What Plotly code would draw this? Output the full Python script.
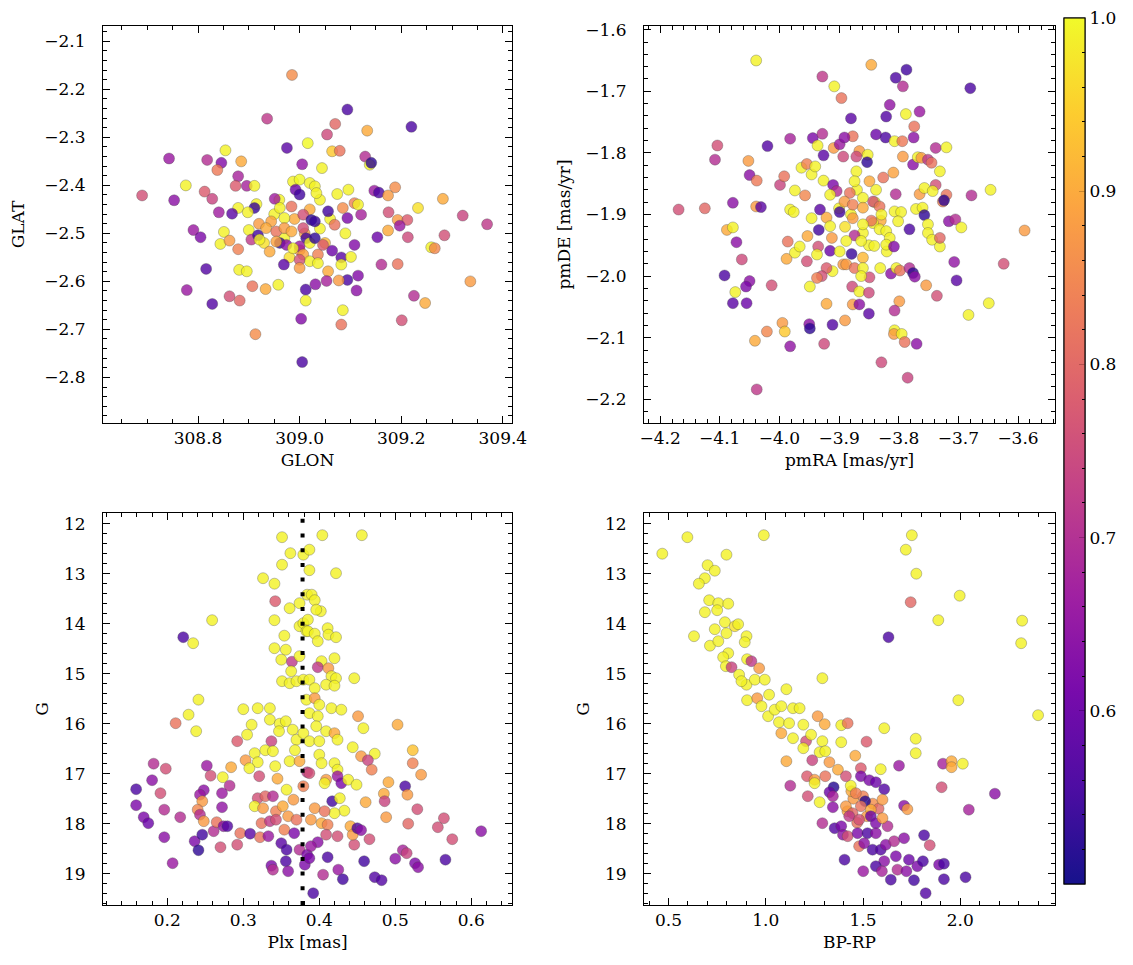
import plotly.graph_objects as go

# ---------------- data ----------------
# Panel 1: galactic position
glon = [
    308.95, 308.99, 309.04, 309.01, 308.97, 309.05, 308.93, 309.02, 309.06, 308.96,
    309.00, 309.04, 308.98, 309.09, 308.92,
    308.936, 308.975, 309.016, 308.743, 308.818, 308.846, 308.854, 308.885, 308.838, 309.005,
    308.776, 308.879, 308.874, 308.896, 308.911, 308.813, 308.690, 308.753, 308.828, 308.951,
    308.915, 308.911, 308.879, 308.841, 308.867, 308.898,
    308.987, 309.000, 309.020, 308.992, 309.000, 308.961, 308.984, 308.970, 309.007, 309.023,
    308.944, 308.934, 308.954, 308.970, 308.984, 309.007, 309.013, 308.961, 308.974, 309.000,
    309.020, 308.987, 309.007, 309.020, 309.000, 309.000,
    308.791, 308.805, 308.851, 308.844, 308.862, 308.879, 308.900, 308.905, 308.918, 308.921,
    308.941, 308.954, 308.816, 308.881, 308.896, 308.969, 308.778, 308.828, 308.862, 308.882,
    308.907, 308.933, 308.958, 309.012, 309.012, 309.003, 308.913, 309.005, 308.985,
    309.094, 309.070, 309.054, 309.133, 309.220, 309.064, 309.079, 309.044, 309.129, 309.138,
    309.141, 309.030, 309.033, 309.074, 309.096, 309.147, 309.156, 309.188, 309.174, 309.282,
    309.233, 309.175, 309.321, 309.369, 309.193, 309.212, 309.197, 309.174, 309.213, 309.285,
    309.259, 309.266, 309.153, 309.121, 309.108, 309.056, 309.030, 309.094, 309.115, 309.085,
    309.069, 309.030, 309.108, 309.064, 309.082, 309.101, 309.082, 309.036, 309.046, 309.056,
    309.036, 309.161, 309.193, 309.336, 309.115, 309.094, 309.077, 309.053, 309.031, 309.112,
    309.225, 309.247, 309.085, 309.082, 309.201,
]
glat = [
    -2.46, -2.47, -2.49, -2.50, -2.51, -2.52, -2.52, -2.45, -2.47, -2.43,
    -2.535, -2.43, -2.55, -2.50, -2.48,
    -2.261, -2.322, -2.312, -2.344, -2.347, -2.353, -2.327, -2.350, -2.368, -2.356,
    -2.400, -2.381, -2.401, -2.401, -2.401, -2.413, -2.421, -2.431, -2.428, -2.428,
    -2.439, -2.447, -2.447, -2.456, -2.459, -2.456,
    -2.392, -2.388, -2.395, -2.409, -2.419, -2.447, -2.444, -2.468, -2.461, -2.472,
    -2.475, -2.489, -2.496, -2.489, -2.496, -2.489, -2.510, -2.520, -2.524, -2.527,
    -2.520, -2.531, -2.544, -2.558, -2.555, -2.572,
    -2.493, -2.508, -2.497, -2.522, -2.515, -2.533, -2.493, -2.513, -2.504, -2.513,
    -2.538, -2.517, -2.574, -2.576, -2.579, -2.565, -2.618, -2.647, -2.631, -2.640,
    -2.610, -2.616, -2.607, -2.617, -2.640, -2.678, -2.710, -2.768, -2.170,
    -2.242, -2.272, -2.294, -2.286, -2.278, -2.329, -2.328, -2.364, -2.340, -2.357,
    -2.353, -2.402, -2.416, -2.418, -2.409, -2.411, -2.415, -2.404, -2.421, -2.428,
    -2.447, -2.456, -2.463, -2.481, -2.472, -2.472, -2.484, -2.494, -2.508, -2.504,
    -2.529, -2.531, -2.508, -2.461, -2.437, -2.454, -2.475, -2.468, -2.440, -2.447,
    -2.482, -2.510, -2.524, -2.536, -2.550, -2.549, -2.565, -2.544, -2.524, -2.579,
    -2.562, -2.565, -2.564, -2.600, -2.588, -2.597, -2.598, -2.599, -2.606, -2.619,
    -2.630, -2.645, -2.660, -2.690, -2.681,
]
prob_pos = [
    0.99, 0.90, 0.99, 0.88, 0.99, 0.92, 0.97, 0.90, 0.99, 0.99,
    0.85, 0.99, 0.97, 0.99, 0.88,
    0.72, 0.58, 1.00, 0.66, 0.70, 0.63, 0.99, 0.90, 0.83, 0.65,
    0.99, 0.68, 0.78, 0.68, 0.99, 0.78, 0.76, 0.64, 0.74, 0.67,
    0.99, 0.54, 0.99, 0.67, 0.58, 0.99,
    0.99, 1.00, 0.99, 0.60, 0.55, 0.99, 0.82, 0.99, 0.76, 0.53,
    0.89, 0.90, 0.82, 0.88, 0.90, 0.76, 0.55, 0.53, 0.64, 0.66,
    0.99, 0.99, 0.89, 0.99, 0.76, 0.88,
    0.66, 0.62, 0.99, 0.99, 0.88, 0.84, 0.99, 0.72, 0.55, 0.99,
    0.90, 0.89, 0.57, 0.99, 0.99, 0.58, 0.66, 0.57, 0.76, 0.80,
    0.82, 0.90, 0.99, 0.56, 0.99, 0.63, 0.86, 0.56, 0.86,
    0.56, 0.80, 0.75, 0.90, 0.56, 0.94, 0.82, 0.99, 0.70, 0.99,
    0.53, 0.99, 0.99, 0.99, 0.99, 0.66, 0.56, 0.86, 0.88, 0.90,
    0.97, 0.76, 0.74, 0.72, 0.88, 0.78, 0.66, 0.90, 0.75, 0.76,
    0.99, 0.85, 0.60, 0.68, 0.84, 0.55, 0.54, 0.62, 0.99, 0.86,
    0.82, 0.53, 0.63, 0.60, 0.58, 0.99, 0.99, 0.84, 0.78, 0.90,
    0.99, 0.70, 0.82, 0.88, 0.63, 0.56, 0.88, 0.68, 0.64, 0.64,
    0.70, 0.90, 0.99, 0.82, 0.76,
]

# Panel 2: proper motions
pmra = [
    -3.88, -3.86, -3.84, -3.89, -3.85, -3.87, -3.83, -3.90, -3.86, -3.82,
    -4.039, -3.928, -3.908, -3.896, -4.104, -4.108, -4.020, -3.982, -3.944, -3.928,
    -3.936, -3.926, -3.909, -3.899, -3.893, -4.052, -4.050, -4.038, -3.999, -3.992,
    -3.963, -3.954, -3.946, -3.940, -3.974, -3.957, -3.926, -3.910, -3.904, -3.915,
    -4.169, -4.125, -4.078, -4.039, -4.031, -3.982, -3.976, -3.932, -3.921, -3.946,
    -3.899, -4.088, -4.078, -4.072, -4.063, -3.986, -3.988, -3.974, -3.966, -3.953,
    -3.934, -3.915, -3.912, -3.935, -3.915, -3.954, -3.937, -3.899, -3.893, -3.911,
    -3.921, -3.929, -3.949, -3.937, -4.092, -4.050, -4.056, -4.013, -4.074, -4.078,
    -4.055, -3.921, -3.890, -3.995, -3.991, -4.021, -4.041, -3.950, -3.949, -3.911,
    -3.982, -3.925, -4.038,
    -3.846, -3.787, -3.805, -3.793, -3.680, -3.815, -3.821, -3.788, -3.765, -3.880,
    -3.774, -3.838, -3.822, -3.807, -3.794, -3.775, -3.877, -3.891, -3.738, -3.720,
    -3.793, -3.776, -3.768, -3.762, -3.751, -3.745, -3.731, -3.866, -3.852, -3.871,
    -3.853, -3.809, -3.826, -3.871, -3.874, -3.849, -3.838, -3.805, -3.765, -3.757,
    -3.738, -3.743, -3.720, -3.726, -3.724, -3.678, -3.646, -3.882, -3.891, -3.843,
    -3.860, -3.877, -3.832, -3.829, -3.860, -3.877, -3.807, -3.796, -3.801, -3.771,
    -3.760, -3.757, -3.751, -3.751, -3.782, -3.716, -3.705, -3.695, -3.589, -3.744,
    -3.731, -3.731, -3.843, -3.832, -3.821, -3.815, -3.846, -3.860, -3.874, -3.888,
    -3.863, -3.841, -3.821, -3.808, -3.879, -3.707, -3.624, -3.888, -3.874, -3.860,
    -3.831, -3.813, -3.804, -3.798, -3.782, -3.776, -3.773, -3.849, -3.863, -3.878,
    -3.866, -3.850, -3.754, -3.703, -3.736, -3.649, -3.683, -3.877, -3.866, -3.850,
    -3.799, -3.807, -3.807, -3.808, -3.795, -3.790, -3.770, -3.829, -3.785,
]
pmde = [
    -1.90, -1.93, -1.88, -1.92, -1.95, -1.86, -1.91, -1.89, -1.97, -1.96,
    -1.650, -1.676, -1.692, -1.711, -1.788, -1.811, -1.789, -1.777, -1.776, -1.769,
    -1.788, -1.804, -1.792, -1.786, -1.806, -1.813, -1.836, -1.845, -1.852, -1.838,
    -1.824, -1.818, -1.835, -1.822, -1.861, -1.869, -1.845, -1.852, -1.862, -1.868,
    -1.892, -1.890, -1.881, -1.887, -1.888, -1.892, -1.896, -1.892, -1.905, -1.906,
    -1.896, -1.925, -1.921, -1.945, -1.973, -1.944, -1.972, -1.962, -1.952, -1.935,
    -1.925, -1.919, -1.938, -1.952, -1.959, -1.976, -1.965, -1.960, -1.981, -1.992,
    -1.987, -2.000, -2.017, -2.003, -1.999, -2.008, -2.017, -2.015, -2.026, -2.044,
    -2.044, -2.045, -2.072, -2.076, -2.090, -2.090, -2.105, -2.078, -2.085, -2.079,
    -2.114, -2.110, -2.184,
    -1.657, -1.665, -1.678, -1.692, -1.695, -1.722, -1.741, -1.737, -1.733, -1.744,
    -1.757, -1.770, -1.775, -1.781, -1.781, -1.775, -1.773, -1.775, -1.792, -1.791,
    -1.806, -1.819, -1.807, -1.808, -1.811, -1.816, -1.830, -1.797, -1.803, -1.806,
    -1.815, -1.832, -1.840, -1.830, -1.846, -1.846, -1.860, -1.867, -1.867, -1.857,
    -1.852, -1.862, -1.868, -1.879, -1.877, -1.869, -1.860, -1.865, -1.879, -1.879,
    -1.873, -1.884, -1.887, -1.900, -1.889, -1.906, -1.895, -1.896, -1.911, -1.891,
    -1.889, -1.901, -1.916, -1.930, -1.924, -1.911, -1.908, -1.921, -1.926, -1.941,
    -1.952, -1.938, -1.914, -1.924, -1.927, -1.938, -1.910, -1.916, -1.934, -1.943,
    -1.943, -1.951, -1.949, -1.952, -1.964, -1.977, -1.980, -1.981, -1.987, -1.987,
    -1.987, -1.996, -1.987, -1.991, -1.987, -1.995, -2.001, -2.002, -2.000, -2.017,
    -2.025, -2.027, -2.015, -2.007, -2.032, -2.044, -2.063, -2.046, -2.046, -2.061,
    -2.041, -2.056, -2.088, -2.094, -2.094, -2.107, -2.110, -2.140, -2.165,
]
prob_pm = [
    0.99, 0.99, 0.99, 0.97, 0.99, 0.99, 0.90, 0.99, 0.92, 0.99,
    0.99, 0.72, 0.99, 0.82, 0.76, 0.70, 0.57, 0.68, 0.62, 0.70,
    0.99, 0.58, 0.88, 0.66, 0.75, 0.88, 0.64, 0.83, 0.74, 0.82,
    0.99, 0.84, 0.99, 0.99, 0.99, 0.85, 0.99, 0.62, 0.70, 0.99,
    0.76, 0.80, 0.64, 0.88, 0.58, 0.99, 0.99, 0.58, 0.90, 0.99,
    0.55, 0.90, 0.99, 0.64, 0.75, 0.82, 0.90, 0.99, 0.99, 0.90,
    0.55, 0.99, 0.88, 0.76, 0.60, 0.76, 0.99, 0.99, 0.88, 0.99,
    0.78, 0.76, 0.99, 0.84, 0.56, 0.64, 0.62, 0.76, 0.99, 0.58,
    0.60, 0.90, 0.88, 0.88, 0.94, 0.85, 0.90, 0.64, 0.53, 0.57,
    0.65, 0.75, 0.72,
    0.90, 0.55, 0.56, 0.70, 0.56, 0.65, 0.57, 0.99, 0.66, 0.58,
    0.82, 0.60, 0.56, 0.99, 0.83, 0.64, 0.82, 0.64, 0.70, 0.99,
    0.88, 0.64, 0.99, 0.88, 0.72, 0.82, 0.99, 0.88, 0.99, 0.75,
    0.53, 0.89, 0.82, 0.99, 0.99, 0.90, 0.99, 0.70, 0.88, 0.99,
    0.76, 0.99, 0.82, 0.84, 0.53, 0.70, 0.99, 0.82, 0.88, 0.76,
    0.99, 0.84, 0.82, 0.99, 0.90, 0.88, 0.99, 0.99, 0.99, 0.99,
    0.99, 0.53, 0.99, 0.99, 0.56, 0.64, 0.70, 0.99, 0.88, 0.99,
    0.99, 0.80, 0.99, 0.99, 0.99, 0.99, 0.82, 0.99, 0.70, 0.99,
    0.99, 0.99, 0.99, 0.63, 0.54, 0.65, 0.76, 0.88, 0.82, 0.99,
    0.99, 0.64, 0.99, 0.82, 0.70, 0.53, 0.64, 0.76, 0.99, 0.75,
    0.99, 0.75, 0.88, 0.58, 0.76, 0.99, 0.99, 0.88, 0.64, 0.58,
    0.88, 0.70, 0.99, 0.88, 0.99, 0.82, 0.64, 0.75, 0.74,
]

# Panel 3: parallax vs G
plx = [
    0.351, 0.362, 0.379, 0.351, 0.326, 0.341, 0.342, 0.361, 0.374, 0.384,
    0.341, 0.374, 0.379, 0.383, 0.259, 0.221, 0.234, 0.354, 0.341, 0.356,
    0.350, 0.364, 0.374, 0.363, 0.351, 0.361, 0.370, 0.379, 0.383, 0.241,
    0.228, 0.211, 0.238, 0.300, 0.319, 0.335, 0.311, 0.305, 0.335, 0.348,
    0.356, 0.347, 0.365, 0.370, 0.379, 0.292, 0.337, 0.315, 0.329, 0.339,
    0.368, 0.303, 0.319, 0.308, 0.342, 0.361, 0.374, 0.384, 0.284, 0.252,
    0.257, 0.182, 0.198, 0.180, 0.191, 0.159, 0.159, 0.169, 0.175, 0.196,
    0.217, 0.196, 0.207, 0.236, 0.246, 0.241, 0.273, 0.282, 0.272, 0.248,
    0.243, 0.246, 0.240, 0.243, 0.248, 0.272, 0.261, 0.265, 0.274, 0.279,
    0.296, 0.309, 0.270, 0.292, 0.321, 0.345, 0.357, 0.366, 0.379, 0.319,
    0.329, 0.339, 0.315, 0.326, 0.343, 0.352, 0.359, 0.370, 0.324, 0.335,
    0.343, 0.354, 0.367, 0.322, 0.333, 0.350, 0.357, 0.374, 0.384, 0.356,
    0.337, 0.339, 0.359, 0.381, 0.392,
    0.404, 0.456, 0.387, 0.387, 0.422, 0.390, 0.394, 0.402, 0.396, 0.385,
    0.385, 0.394, 0.411, 0.412, 0.422, 0.398, 0.403, 0.420, 0.398, 0.412,
    0.416, 0.422, 0.446, 0.387, 0.394, 0.409, 0.420, 0.394, 0.400, 0.416,
    0.429, 0.387, 0.398, 0.451, 0.458, 0.503, 0.396, 0.409, 0.420, 0.424,
    0.387, 0.400, 0.444, 0.473, 0.455, 0.464, 0.469, 0.523, 0.523, 0.534,
    0.400, 0.403, 0.420, 0.424, 0.387, 0.424, 0.429, 0.438, 0.449, 0.409,
    0.407, 0.491, 0.485, 0.513, 0.516, 0.486, 0.461, 0.529, 0.488, 0.417,
    0.427, 0.433, 0.420, 0.394, 0.407, 0.389, 0.403, 0.411, 0.409, 0.424,
    0.446, 0.441, 0.444, 0.450, 0.455, 0.466, 0.517, 0.556, 0.564, 0.575,
    0.613, 0.398, 0.389, 0.411, 0.387, 0.405, 0.425, 0.431, 0.459, 0.473,
    0.482, 0.500, 0.510, 0.515, 0.526, 0.530, 0.566,
]
gmag_plx = [
    12.27, 12.59, 12.62, 12.82, 13.09, 13.20, 13.55, 13.69, 13.59, 13.42,
    13.93, 14.05, 13.99, 14.15, 13.93, 14.27, 14.39, 14.24, 14.49, 14.52,
    14.72, 14.76, 14.65, 14.95, 15.15, 15.19, 15.15, 15.12, 15.52, 15.52,
    15.82, 15.99, 16.15, 15.71, 15.69, 15.69, 16.02, 16.22, 15.92, 16.00,
    15.95, 16.15, 16.12, 16.32, 16.19, 16.35, 16.35, 16.59, 16.53, 16.55,
    16.53, 16.73, 16.77, 16.89, 16.85, 16.75, 16.75, 16.97, 16.87, 16.84,
    17.04, 16.80, 16.90, 17.13, 17.39, 17.31, 17.63, 17.87, 17.99, 17.72,
    17.87, 18.27, 18.79, 18.35, 18.22, 18.53, 17.07, 17.24, 17.39, 17.33,
    17.42, 17.55, 17.72, 17.82, 17.95, 17.67, 18.15, 17.97, 18.05, 18.05,
    18.19, 18.20, 18.47, 18.42, 17.05, 17.10, 17.32, 17.52, 17.25, 17.49,
    17.45, 17.45, 17.65, 17.69, 17.75, 17.65, 17.85, 17.92, 17.99, 17.95,
    17.92, 18.12, 18.19, 18.27, 18.25, 18.39, 18.52, 18.52, 18.62, 18.75,
    18.84, 18.92, 18.95, 18.82, 19.39,
    12.23, 12.23, 12.52, 12.93, 12.99, 13.42, 13.53, 13.75, 13.72, 13.92,
    14.15, 14.20, 14.09, 14.22, 14.27, 14.35, 14.75, 14.69, 14.87, 14.89,
    15.05, 15.09, 15.09, 15.12, 15.29, 15.22, 15.24, 15.49, 15.62, 15.69,
    15.72, 15.79, 15.85, 15.85, 16.09, 16.02, 16.05, 16.15, 16.19, 16.32,
    16.35, 16.35, 16.47, 16.60, 16.65, 16.73, 16.92, 16.53, 16.79, 17.02,
    16.62, 16.79, 16.79, 16.92, 16.99, 17.05, 17.19, 17.12, 17.22, 17.12,
    17.19, 17.17, 17.40, 17.25, 17.42, 17.55, 17.57, 17.71, 17.87, 17.55,
    17.49, 17.74, 17.79, 17.69, 17.75, 17.92, 17.99, 18.02, 18.22, 18.25,
    18.42, 18.05, 18.22, 18.09, 18.13, 18.31, 18.00, 18.07, 17.89, 18.31,
    18.15, 18.37, 18.45, 18.67, 18.69, 19.02, 18.92, 19.11, 18.75, 19.07,
    19.13, 18.70, 18.53, 18.59, 18.79, 18.87, 18.72,
]
prob_plx = [
    0.99, 0.99, 0.99, 0.99, 0.99, 0.99, 0.78, 0.99, 0.99, 0.99,
    0.99, 0.99, 0.99, 0.99, 0.99, 0.56, 0.99, 0.99, 0.99, 0.99,
    0.99, 0.72, 0.99, 0.99, 0.99, 0.99, 0.99, 0.99, 0.99, 0.99,
    0.99, 0.82, 0.99, 0.99, 0.99, 0.99, 0.99, 0.99, 0.99, 0.99,
    0.99, 0.99, 0.99, 0.99, 0.99, 0.78, 0.74, 0.99, 0.99, 0.99,
    0.99, 0.88, 0.99, 0.99, 0.99, 0.99, 0.90, 0.72, 0.90, 0.66,
    0.76, 0.70, 0.76, 0.64, 0.76, 0.56, 0.62, 0.62, 0.60, 0.70,
    0.70, 0.64, 0.66, 0.62, 0.55, 0.53, 0.99, 0.70, 0.66, 0.64,
    0.66, 0.88, 0.85, 0.70, 0.88, 0.65, 0.70, 0.82, 0.64, 0.57,
    0.82, 0.58, 0.76, 0.76, 0.76, 0.90, 0.99, 0.88, 0.84, 0.76,
    0.80, 0.70, 0.99, 0.88, 0.84, 0.90, 0.88, 0.82, 0.82, 0.72,
    0.76, 0.84, 0.62, 0.82, 0.66, 0.58, 0.56, 0.70, 0.62, 0.56,
    0.62, 0.70, 0.64, 0.62, 0.56,
    0.99, 0.99, 0.99, 0.99, 0.99, 0.99, 0.99, 0.99, 0.99, 0.99,
    0.99, 0.99, 0.99, 0.99, 0.99, 0.99, 0.99, 0.99, 0.72, 0.88,
    0.99, 0.99, 0.99, 0.99, 0.99, 0.99, 0.99, 0.88, 0.99, 0.99,
    0.99, 0.99, 0.99, 0.88, 0.99, 0.90, 0.99, 0.99, 0.90, 0.99,
    0.99, 0.99, 0.99, 0.99, 0.88, 0.74, 0.84, 0.93, 0.84, 0.88,
    0.99, 0.99, 0.99, 0.99, 0.76, 0.66, 0.62, 0.99, 0.99, 0.88,
    0.99, 0.90, 0.90, 0.56, 0.88, 0.74, 0.90, 0.76, 0.88, 0.55,
    0.99, 0.99, 0.99, 0.88, 0.82, 0.88, 0.90, 0.84, 0.76, 0.76,
    0.76, 0.90, 0.88, 0.56, 0.64, 0.76, 0.80, 0.76, 0.76, 0.76,
    0.64, 0.64, 0.66, 0.56, 0.62, 0.70, 0.66, 0.55, 0.55, 0.57,
    0.57, 0.64, 0.68, 0.74, 0.62, 0.64, 0.56,
]
plx_ref = 0.378  # dotted reference parallax

# Panel 4: colour-magnitude diagram
bp_rp = [
    1.45, 1.50, 1.42, 1.55, 1.47, 1.52, 1.58, 1.44,
    0.468, 0.597, 0.990, 0.798, 0.701, 0.738, 0.687, 0.656, 0.709, 0.756,
    0.807, 0.687, 0.750, 0.790, 0.841, 0.858, 0.738, 0.798, 0.901, 0.631,
    0.713, 0.756, 0.892, 0.807, 0.781, 0.795, 0.824, 0.904, 0.926, 0.966,
    0.863, 0.901, 0.944, 0.995, 0.875, 0.904, 0.956, 1.017, 1.106, 1.291,
    0.978, 1.012, 1.046, 1.080, 1.140, 1.174, 1.068, 1.120, 1.193, 1.080,
    1.140, 1.207, 1.267, 1.303, 1.233, 1.291, 1.193, 1.277, 1.306, 1.388,
    1.388, 1.239, 1.106, 1.327, 1.371, 1.212, 1.251, 1.306, 1.251, 1.126,
    1.216, 1.277, 1.349, 1.328, 1.345, 1.345, 1.291, 1.354, 1.388, 1.397,
    1.405,
    1.751, 1.720, 1.774, 1.745, 1.997, 1.887, 2.318, 2.313, 1.631, 1.990,
    2.400, 1.421, 1.609, 1.518, 1.771, 1.771, 1.460, 1.591, 1.685, 1.911,
    1.955, 1.955, 2.013, 1.489, 1.489, 1.532, 1.566, 1.609, 1.437, 1.412,
    1.600, 1.511, 1.463, 1.489, 1.412, 1.446, 1.540, 1.711, 1.728, 1.904,
    2.178, 2.044, 1.429, 1.480, 1.540, 1.566, 1.626, 1.600, 1.421, 1.472,
    1.523, 1.480, 1.566, 1.506, 1.549, 1.591, 1.617, 1.660, 1.711, 1.669,
    1.609, 1.566, 1.597, 1.501, 1.643, 1.677, 1.723, 1.736, 1.779, 1.808,
    1.814, 1.843, 1.762, 1.822, 1.891, 1.916, 1.916, 2.027,
]
gmag_cmd = [
    17.50, 17.45, 17.75, 17.60, 17.98, 17.85, 17.70, 17.35,
    12.60, 12.27, 12.23, 12.62, 12.83, 12.94, 13.09, 13.20, 13.53, 13.59,
    13.60, 13.77, 13.73, 13.97, 14.05, 14.01, 14.11, 14.19, 14.25, 14.25,
    14.44, 14.35, 14.37, 14.59, 14.67, 14.85, 14.87, 14.71, 14.75, 14.89,
    15.02, 15.22, 15.12, 15.12, 15.15, 15.53, 15.49, 15.42, 15.31, 15.09,
    15.65, 15.85, 15.72, 15.65, 15.69, 15.69, 15.97, 15.99, 16.02, 16.19,
    16.29, 16.35, 15.85, 16.01, 16.22, 16.35, 16.49, 16.57, 16.55, 16.03,
    16.37, 16.73, 16.75, 16.77, 16.92, 17.05, 17.12, 17.05, 17.19, 17.24,
    17.45, 17.57, 17.27, 17.37, 17.45, 17.67, 17.99, 18.09, 18.05, 18.22,
    18.72,
    12.23, 12.52, 13.00, 13.57, 13.44, 13.93, 13.94, 14.39, 14.27, 15.53,
    15.83, 15.99, 16.09, 16.36, 16.30, 16.59, 16.64, 16.91, 16.84, 16.80,
    16.75, 16.87, 16.80, 16.89, 17.05, 17.13, 17.17, 17.31, 17.24, 17.05,
    17.52, 17.55, 17.39, 17.65, 17.65, 17.79, 17.72, 17.64, 17.71, 17.27,
    17.40, 17.72, 17.85, 17.92, 17.85, 17.99, 18.05, 17.89, 18.25, 18.19,
    18.19, 18.45, 18.19, 18.39, 18.52, 18.52, 18.42, 18.35, 18.29, 18.65,
    18.75, 18.85, 18.95, 18.95, 19.12, 18.92, 18.95, 18.72, 18.85, 18.75,
    18.23, 18.43, 19.13, 19.39, 18.82, 18.80, 19.11, 19.07,
]
prob_cmd = [
    0.88, 0.84, 0.90, 0.86, 0.82, 0.88, 0.80, 0.90,
    0.99, 0.99, 0.99, 0.99, 0.99, 0.99, 0.99, 0.99, 0.99, 0.99,
    0.99, 0.99, 0.99, 0.99, 0.97, 0.99, 0.99, 0.99, 0.99, 0.99,
    0.99, 0.99, 0.99, 0.99, 0.99, 0.99, 0.74, 0.99, 0.72, 0.88,
    0.99, 0.99, 0.99, 0.99, 0.99, 0.99, 0.88, 0.99, 0.99, 0.99,
    0.99, 0.99, 0.99, 0.99, 0.99, 0.99, 0.99, 0.99, 0.99, 0.90,
    0.99, 0.76, 0.88, 0.90, 0.99, 0.99, 0.99, 0.99, 0.99, 0.99,
    0.99, 0.74, 0.90, 0.88, 0.90, 0.78, 0.88, 0.82, 0.99, 0.70,
    0.76, 0.99, 0.52, 0.60, 0.68, 0.64, 0.70, 0.57, 0.62, 0.64,
    0.56,
    0.99, 0.99, 0.99, 0.80, 0.99, 0.99, 0.99, 0.99, 0.56, 0.99,
    0.99, 0.82, 0.99, 0.78, 0.99, 0.99, 0.90, 0.99, 0.66, 0.68,
    0.90, 0.90, 0.99, 0.78, 0.62, 0.62, 0.60, 0.57, 0.99, 0.76,
    0.88, 0.52, 0.84, 0.82, 0.88, 0.80, 0.90, 0.64, 0.88, 0.76,
    0.64, 0.68, 0.72, 0.76, 0.60, 0.62, 0.70, 0.88, 0.76, 0.62,
    0.56, 0.82, 0.64, 0.64, 0.56, 0.57, 0.64, 0.70, 0.64, 0.62,
    0.64, 0.56, 0.68, 0.66, 0.56, 0.70, 0.64, 0.60, 0.62, 0.56,
    0.56, 0.76, 0.55, 0.57, 0.62, 0.56, 0.56, 0.56,
]

for a, b, c in [(glon, glat, prob_pos), (pmra, pmde, prob_pm),
                (plx, gmag_plx, prob_plx), (bp_rp, gmag_cmd, prob_cmd)]:
    assert len(a) == len(b) == len(c), (len(a), len(b), len(c))

prob_min, prob_max = 0.5, 1.0
cbar_ticks = [0.6, 0.7, 0.8, 0.9, 1.0]

# ---------------- style ----------------
W, H = 1133, 965
FONT = "DejaVu Serif"
FS = 17
plasma = ['#0d0887', '#46039f', '#7201a8', '#9c179e', '#bd3786',
          '#d8576b', '#ed7953', '#fb9f3a', '#fdca26', '#f0f921']


def rgba(h, a=0.8):
    h = h.lstrip('#')
    return f"rgba({int(h[0:2],16)},{int(h[2:4],16)},{int(h[4:6],16)},{a})"


cscale = [[i / (len(plasma) - 1), rgba(c)] for i, c in enumerate(plasma)]


def px_x(p):
    return p / W


def px_y(p):
    return 1 - p / H


dom_left = [px_x(95), px_x(504)]
dom_right = [px_x(636), px_x(1047)]
dom_top = [px_y(415), px_y(18)]
dom_bot = [px_y(897), px_y(505)]

CB_X, CB_TOP, CB_BOT = 1056, 10, 876

fig = go.Figure()


def cbar(vals, texts, ticklen):
    return dict(
        x=px_x(CB_X), xanchor="left", y=px_y(CB_TOP), yanchor="top",
        len=(CB_BOT - CB_TOP) / H, lenmode="fraction",
        thickness=21, thicknessmode="pixels",
        outlinewidth=1, outlinecolor="black",
        ticks="inside", ticklen=ticklen, tickwidth=1, tickcolor="black",
        tickvals=vals, ticktext=texts, ticklabeloverflow="allow",
        tickfont=dict(family=FONT, size=FS, color="black"),
        xpad=0, ypad=0,
    )


def add_scatter(x, y, c, xa, ya, show=False):
    fig.add_trace(go.Scatter(
        x=x, y=y, mode="markers", xaxis=xa, yaxis=ya, hoverinfo="skip",
        marker=dict(size=11, color=c, colorscale=cscale, cmin=prob_min, cmax=prob_max,
                    line=dict(width=0.6, color="rgba(70,70,70,0.55)"),
                    showscale=show,
                    colorbar=cbar(cbar_ticks, [f"{v:.1f}" for v in cbar_ticks], 6)),
        showlegend=False))


add_scatter(glon, glat, prob_pos, "x", "y", show=True)
add_scatter(pmra, pmde, prob_pm, "x2", "y2")
add_scatter(plx, gmag_plx, prob_plx, "x3", "y3")
add_scatter(bp_rp, gmag_cmd, prob_cmd, "x4", "y4")

# minor ticks on colour bar (second, label-less colour bar drawn first, underneath)
minor_vals = [round(prob_min + 0.02 * k, 2) for k in range(1, 25)]
minor_vals = [v for v in minor_vals if abs(v * 10 - round(v * 10)) > 1e-6]
fig.add_trace(go.Scatter(
    x=[None], y=[None], mode="markers", xaxis="x", yaxis="y", showlegend=False,
    hoverinfo="skip",
    marker=dict(size=0, color=[prob_min, prob_max], colorscale=cscale,
                cmin=prob_min, cmax=prob_max, showscale=True,
                colorbar=cbar(minor_vals, ["" for _ in minor_vals], 3))))


def axis(domain, rng, dtick, mdtick, fmt, title, anchor, standoff, lab_off):
    return dict(
        domain=domain, range=rng, anchor=anchor, dtick=dtick, tick0=0,
        tickformat=fmt, ticks="inside", ticklen=7, tickwidth=1, tickcolor="black",
        showline=True, linecolor="black", linewidth=1, mirror="allticks",
        showgrid=False, zeroline=False, automargin=False,
        ticklabelstandoff=lab_off,
        minor=dict(dtick=mdtick, tick0=0, ticks="inside", ticklen=4, tickwidth=0.8,
                   tickcolor="black", showgrid=False),
        tickfont=dict(family=FONT, size=FS, color="black"),
        title=dict(text=title, font=dict(family=FONT, size=FS, color="black"),
                   standoff=standoff),
    )


fig.update_layout(
    width=W, height=H, margin=dict(l=0, r=0, t=0, b=0),
    paper_bgcolor="white", plot_bgcolor="white", showlegend=False,
    font=dict(family=FONT, size=FS, color="black"),
    xaxis=axis(dom_left, [308.613, 309.418], 0.2, 0.05, ".1f", "GLON", "y", 6, 0),
    yaxis=axis(dom_top, [-2.895, -2.068], 0.1, 0.02, ".1f", "GLAT", "x", 15, 13),
    xaxis2=axis(dom_right, [-4.227, -3.538], 0.1, 0.02, ".1f", "pmRA [mas/yr]", "y2", 6, 0),
    yaxis2=axis(dom_top, [-2.2385, -1.594], 0.1, 0.02, ".1f", "pmDE [mas/yr]", "x2", 10, 13),
    xaxis3=axis(dom_left, [0.1154, 0.6536], 0.1, 0.02, ".1f", "Plx [mas]", "y3", 6, 0),
    yaxis3=axis(dom_bot, [19.626, 11.786], 1, 0.2, "d", "G", "x3", 11, 13),
    xaxis4=axis(dom_right, [0.374, 2.487], 0.5, 0.1, ".1f", "BP-RP", "y4", 6, 0),
    yaxis4=axis(dom_bot, [19.626, 11.786], 1, 0.2, "d", "G", "x4", 11, 13),
)

fig.add_shape(type="line", xref="x3", yref="y3 domain", x0=plx_ref, x1=plx_ref,
              y0=0, y1=1, line=dict(color="black", width=4, dash="4px,10.7px"),
              layer="above")

fig.write_html("out.html")
